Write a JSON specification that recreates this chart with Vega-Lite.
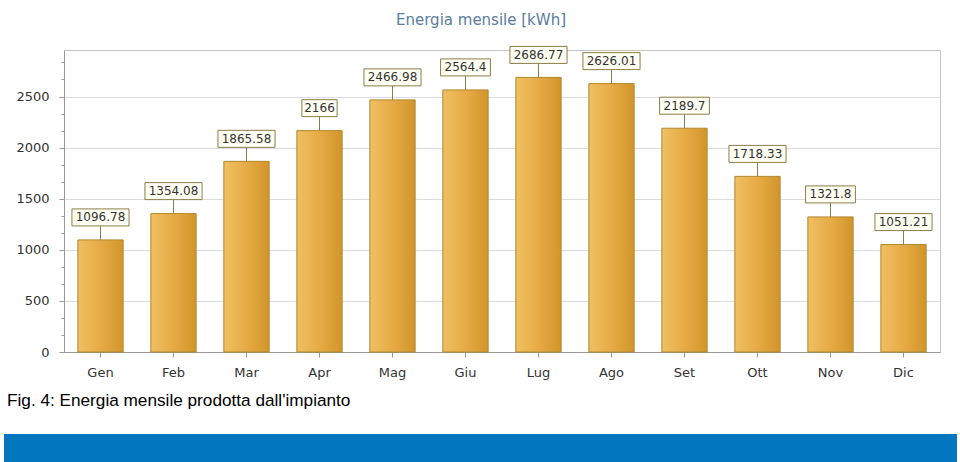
{
  "$schema": "https://vega.github.io/schema/vega-lite/v6.json",
  "background": "white",
  "padding": {"left": 3, "top": 12, "right": 0, "bottom": 0},
  "spacing": 11,
  "columns": 1,
  "config": {"view": {"stroke": "#c4c4c4"}},
  "concat": [
    {
      "width": 876,
      "height": 302,
      "title": {"text": "Energia mensile [kWh]", "font": "DejaVu Sans", "fontSize": 15, "fontWeight": "normal", "color": "#5a7ca3", "anchor": "middle", "dx": -21, "offset": 18},
      "data": {"values": [
        {"mese": "Gen", "kwh": 1096.78},
        {"mese": "Feb", "kwh": 1354.08},
        {"mese": "Mar", "kwh": 1865.58},
        {"mese": "Apr", "kwh": 2166},
        {"mese": "Mag", "kwh": 2466.98},
        {"mese": "Giu", "kwh": 2564.4},
        {"mese": "Lug", "kwh": 2686.77},
        {"mese": "Ago", "kwh": 2626.01},
        {"mese": "Set", "kwh": 2189.7},
        {"mese": "Ott", "kwh": 1718.33},
        {"mese": "Nov", "kwh": 1321.8},
        {"mese": "Dic", "kwh": 1051.21}
      ]},
      "encoding": {
        "x": {"field": "mese", "type": "ordinal", "sort": null,
          "scale": {"paddingInner": 0.38, "paddingOuter": 0.19},
          "axis": {"title": null, "labelAngle": 0, "labelFont": "DejaVu Sans", "labelFontSize": 13, "labelColor": "#333333", "labelPadding": 9, "tickSize": 5, "tickColor": "#999999", "domainColor": "#999999", "grid": false}}
      },
      "layer": [
        {
          "mark": {"type": "bar", "stroke": "#b3862c", "strokeWidth": 1,
            "color": {"gradient": "linear", "x1": 0, "y1": 0, "x2": 1, "y2": 0,
              "stops": [{"offset": 0, "color": "#efc062"}, {"offset": 0.5, "color": "#e6ab46"}, {"offset": 1, "color": "#d1952b"}]}},
          "encoding": {
            "y": {"field": "kwh", "type": "quantitative",
              "scale": {"domain": [0, 2955], "nice": false, "zero": true},
              "axis": {"title": null,
                "values": [0, 166.67, 333.33, 500, 666.67, 833.33, 1000, 1166.67, 1333.33, 1500, 1666.67, 1833.33, 2000, 2166.67, 2333.33, 2500, 2666.67, 2833.33],
                "tickCount": 100,
                "labelExpr": "abs(datum.value % 500) < 1 ? format(datum.value, 'd') : ''",
                "labelOverlap": false, "labelFlush": false,
                "labelFont": "DejaVu Sans", "labelFontSize": 13, "labelColor": "#333333", "labelPadding": 10,
                "tickSize": {"condition": {"test": "abs(datum.value % 500) < 1", "value": 5}, "value": 3},
                "tickColor": "#999999", "domainColor": "#999999",
                "grid": true, "gridColor": "#dcdcdc",
                "gridOpacity": {"condition": {"test": "abs(datum.value % 500) < 1", "value": 1}, "value": 0},
                "minExtent": 60}}
          }
        },
        {
          "mark": {"type": "rule", "color": "#8a7d4a", "strokeWidth": 1, "y2Offset": -14},
          "encoding": {"y": {"field": "kwh", "type": "quantitative"}, "y2": {"field": "kwh"}}
        },
        {
          "mark": {"type": "bar", "fill": "#fffff3", "stroke": "#8a7d4a", "strokeWidth": 1, "yOffset": -14, "y2Offset": -31},
          "encoding": {
            "y": {"field": "kwh", "type": "quantitative"},
            "y2": {"field": "kwh"},
            "size": {"value": {"expr": "length(format(datum.kwh, '~f')) * 7.3 + 6"}}
          }
        },
        {
          "mark": {"type": "text", "dy": -22.5, "baseline": "middle", "font": "DejaVu Sans", "fontSize": 12, "color": "#333333"},
          "encoding": {
            "y": {"field": "kwh", "type": "quantitative"},
            "text": {"field": "kwh", "type": "quantitative", "format": "~f"}
          }
        }
      ]
    },
    {
      "width": 893,
      "height": 30,
      "view": {"fill": "#0277bf", "stroke": null},
      "title": {"text": "Fig. 4: Energia mensile prodotta dall'impianto", "font": "Liberation Sans", "fontSize": 17.2, "fontWeight": "normal", "color": "#000000", "anchor": "start", "frame": "group", "dx": -57, "offset": 25},
      "data": {"values": [{"v": 0}]},
      "mark": {"type": "point", "opacity": 0},
      "encoding": {
        "y": {"field": "v", "type": "quantitative", "scale": {"domain": [0, 1]},
          "axis": {"title": null, "labels": false, "ticks": false, "grid": false, "domain": true, "domainColor": "#0277bf", "domainWidth": 60, "domainCap": "butt", "offset": 30, "translate": 0, "minExtent": 0, "maxExtent": 60}}
      }
    }
  ]
}
